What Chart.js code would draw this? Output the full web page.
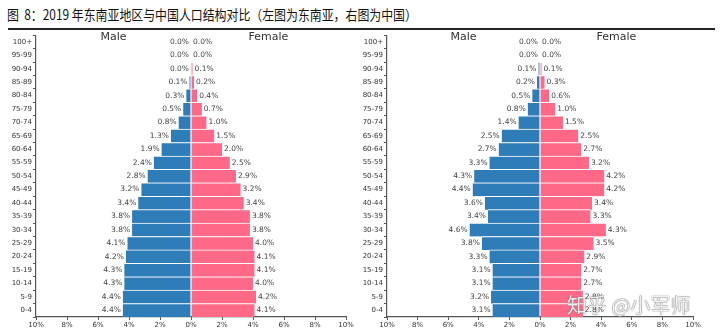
<!DOCTYPE html>
<html>
<head>
<meta charset="utf-8">
<script src="https://cdn.jsdelivr.net/npm/chart.js@4"></script>
<style>
  body { margin: 0; background: #fff; width: 720px; height: 333px; overflow: hidden; position: relative; }
  #title { position: absolute; left: 7px; top: 4px; font: 14px "Noto Sans CJK SC", sans-serif; color: #111; white-space: pre;
           transform: scaleX(0.85); transform-origin: left top; }
  #rule { position: absolute; left: 8px; top: 28px; width: 707px; height: 1.5px; background: #222; }
  .box { position: absolute; top: 30px; width: 360px; height: 303px; }
  #mark { position: absolute; left: 567px; top: 290px; font: 20px "Noto Sans CJK SC", sans-serif; color: rgba(255,255,255,0.9);
          text-shadow: 0 0 1px #666, 0 0 1px #666; white-space: nowrap; }
</style>
</head>
<body>
<div id="title">图  8：2019 年东南亚地区与中国人口结构对比（左图为东南亚，右图为中国）</div>
<div id="rule"></div>
<div class="box" style="left:0"><canvas id="seaChart" width="360" height="303"></canvas></div>
<div class="box" style="left:360px"><canvas id="chinaChart" width="360" height="303"></canvas></div>
<div id="mark">知乎 @小军师</div>
<script>
// age groups, oldest on top
const ages = ['100+', '95-99', '90-94', '85-89', '80-84', '75-79', '70-74', '65-69', '60-64', '55-59',
  '50-54', '45-49', '40-44', '35-39', '30-34', '25-29', '20-24', '15-19', '10-14', '5-9', '0-4'];

// share of population, %
const seaMale = [0.0, 0.0, 0.0, 0.1, 0.3, 0.5, 0.8, 1.3, 1.9, 2.4, 2.8, 3.2, 3.4, 3.8, 3.8, 4.1, 4.2, 4.3, 4.3, 4.4, 4.4];
const seaFemale = [0.0, 0.0, 0.1, 0.2, 0.4, 0.7, 1.0, 1.5, 2.0, 2.5, 2.9, 3.2, 3.4, 3.8, 3.8, 4.0, 4.1, 4.1, 4.0, 4.2, 4.1];
const chinaMale = [0.0, 0.0, 0.1, 0.2, 0.5, 0.8, 1.4, 2.5, 2.7, 3.3, 4.3, 4.4, 3.6, 3.4, 4.6, 3.8, 3.3, 3.1, 3.1, 3.2, 3.1];
const chinaFemale = [0.0, 0.0, 0.1, 0.3, 0.6, 1.0, 1.5, 2.5, 2.7, 3.2, 4.2, 4.2, 3.4, 3.3, 4.3, 3.5, 2.9, 2.7, 2.7, 2.8, 2.8];

const xTicks = [-10, -8, -6, -4, -2, 0, 2, 4, 6, 8, 10];

const BLUE = 'rgb(46, 125, 185)';
const PINK = 'rgb(255, 105, 135)';
const FONT = 'DejaVu Sans';

// percent labels next to each bar end, plus Male / Female headings
const barLabels = {
  id: 'barLabels',
  afterDatasetsDraw(chart) {
    const ctx = chart.ctx;
    const x0 = chart.scales.x.getPixelForValue(0);
    ctx.save();
    ctx.font = '7.5px ' + FONT;
    ctx.fillStyle = '#444';
    ctx.textBaseline = 'middle';
    chart.data.datasets.forEach((ds, i) => {
      chart.getDatasetMeta(i).data.forEach((bar, j) => {
        const txt = Math.abs(ds.data[j]).toFixed(1) + '%';
        if (i === 0) {
          ctx.textAlign = 'right';
          ctx.fillText(txt, Math.min(bar.x, x0) - 2, bar.y);
        } else {
          ctx.textAlign = 'left';
          ctx.fillText(txt, Math.max(bar.x, x0) + 2, bar.y);
        }
      });
    });
    const xs = chart.scales.x;
    ctx.font = '11px ' + FONT;
    ctx.fillStyle = '#333';
    ctx.textAlign = 'center';
    ctx.fillText('Male', xs.getPixelForValue(-5), 7);
    ctx.fillText('Female', xs.getPixelForValue(5), 7);
    ctx.restore();
  }
};

function pyramid(id, male, female, axisW, padRight) {
  return new Chart(document.getElementById(id), {
    type: 'bar',
    data: {
      labels: ages,
      datasets: [
        { label: 'Male', data: male.map(v => -v), backgroundColor: BLUE },
        { label: 'Female', data: female, backgroundColor: PINK }
      ]
    },
    options: {
      indexAxis: 'y',
      responsive: false,
      animation: false,
      layout: { padding: { left: 0, right: padRight, top: 3, bottom: 0 } },
      datasets: {
        bar: { barPercentage: 1, categoryPercentage: 1, borderColor: '#fff', borderWidth: { top: 1, bottom: 0, left: 0, right: 0 }, borderSkipped: false }
      },
      plugins: { legend: { display: false }, tooltip: { enabled: false } },
      scales: {
        x: {
          min: -10, max: 10,
          afterBuildTicks: s => { s.ticks = xTicks.map(v => ({ value: v })); },
          afterFit: s => { s.height = 16; },
          ticks: { callback: v => Math.abs(v) + '%', font: { family: FONT, size: 7 }, color: '#333', padding: 1, maxRotation: 0 },
          grid: { display: true, drawOnChartArea: false, drawTicks: true, tickLength: 3, color: '#555' },
          border: { display: true, color: '#555', width: 1.2 }
        },
        y: {
          stacked: true,
          afterFit: s => { s.width = axisW; },
          ticks: { font: { family: FONT, size: 7 }, color: '#333', padding: 1, autoSkip: false },
          grid: { display: true, drawOnChartArea: false, drawTicks: true, tickLength: 3, color: '#555' },
          border: { display: true, color: '#555', width: 1.2 }
        }
      }
    },
    plugins: [barLabels]
  });
}

pyramid('seaChart', seaMale, seaFemale, 36, 14);
pyramid('chinaChart', chinaMale, chinaFemale, 27, 27);
</script>
</body>
</html>
